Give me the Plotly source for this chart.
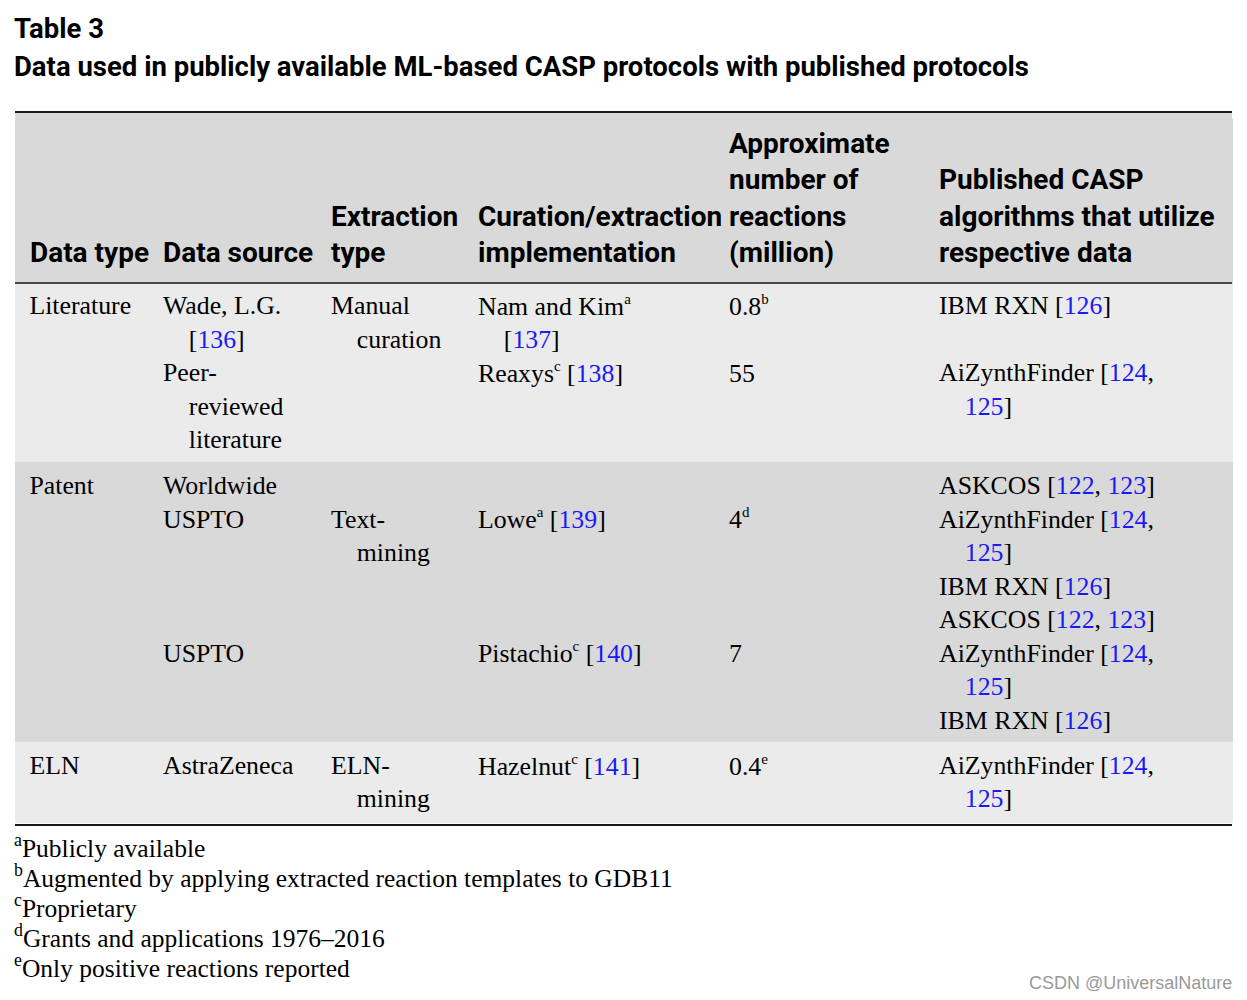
import re
import plotly.graph_objects as go

W, H = 1247, 1000

# ---------------- data ----------------
table_label = "Table 3"
table_title = "Data used in publicly available ML-based CASP protocols with published protocols"

header_lines = [
    ["Data type"],
    ["Data source"],
    ["Extraction", "type"],
    ["Curation/extraction", "implementation"],
    ["Approximate", "number of", "reactions", "(million)"],
    ["Published CASP", "algorithms that utilize", "respective data"],
]

# one entry per sub-row; "|" = wrapped line with hanging indent, "\n" = plain line break
data_type = ["Literature", "", "Patent", "", "ELN"]
data_source = ["Wade, L.G.|[136]", "Peer-|reviewed|literature", "Worldwide\nUSPTO", "USPTO", "AstraZeneca"]
extraction_type = ["Manual|curation", "", "Text-|mining", "", "ELN-|mining"]
implementation = ["Nam and Kim^a|[137]", "Reaxys^c [138]", "Lowe^a [139]", "Pistachio^c [140]", "Hazelnut^c [141]"]
reactions_million = ["0.8", "55", "4", "7", "0.4"]
reactions_note = ["b", "", "d", "", "e"]
casp_algorithms = [
    ["IBM RXN [126]"],
    ["AiZynthFinder [124,|125]"],
    ["ASKCOS [122, 123]", "AiZynthFinder [124,|125]", "IBM RXN [126]", "ASKCOS [122, 123]"],
    ["AiZynthFinder [124,|125]", "IBM RXN [126]"],
    ["AiZynthFinder [124,|125]"],
]
entry_offset = [0, 0, 1, 0, 0]      # line on which columns 3-5 start within the sub-row
row_group = [0, 0, 1, 1, 2]
group_fill = ["#ebebeb", "#d9d9d9", "#ebebeb"]

footnote_marks = ["a", "b", "c", "d", "e"]
footnote_texts = [
    "Publicly available",
    "Augmented by applying extracted reaction templates to GDB11",
    "Proprietary",
    "Grants and applications 1976\u20132016",
    "Only positive reactions reported",
]
watermark = "CSDN @UniversalNature"

# ---------------- styling ----------------
BLUE = "#1a1af5"
NBSP = "\u00a0"
INDENT = NBSP * 4
HEAD_FONT = "Roboto, 'Liberation Sans', sans-serif"
BODY_FONT = "'Liberation Serif', 'Times New Roman', serif"
HEADER_FILL = "#d9d9d9"
col_widths = [140, 168, 147, 251, 210, 301]
TABLE_TOP = 112
HEADER_SHIFT = 7


def markup(s):
    s = re.sub(r"\[([^\]]*)\]",
               lambda m: "[" + re.sub(r"(\d+)", rf"<span style='color:{BLUE}'>\1</span>", m.group(1)) + "]", s)
    s = re.sub(r"\^(\w)", r"<sup><span style='font-size:15px'>\1</span></sup>", s)
    return s


def to_lines(s):
    if not s:
        return []
    s = markup(s)
    out = []
    for part in s.split("\n"):
        segs = part.split("|")
        out.append(segs[0])
        out += [INDENT + seg for seg in segs[1:]]
    return out


n_groups = len(group_fill)
group_lines = [[[] for _ in range(6)] for _ in range(n_groups)]
for i in range(len(data_type)):
    off = [""] * entry_offset[i]
    val = reactions_million[i] + (("^" + reactions_note[i]) if reactions_note[i] else "")
    cols = [
        to_lines(data_type[i]),
        to_lines(data_source[i]),
        off + to_lines(extraction_type[i]),
        off + to_lines(implementation[i]),
        off + to_lines(val),
        sum((to_lines(a) for a in casp_algorithms[i]), []),
    ]
    n = max(len(c) for c in cols)
    for k, c in enumerate(cols):
        group_lines[row_group[i]][k] += c + [""] * (n - len(c))

body_cols = []
for k in range(6):
    col = []
    for g in range(n_groups):
        lines = group_lines[g][k]
        if k == 0:
            lines = [NBSP + l if l else l for l in lines]
        col.append("<br>".join(l if l else NBSP for l in lines))
    body_cols.append(col)

nh = max(len(h) for h in header_lines)
header_cells = []
for k, h in enumerate(header_lines):
    lines = [NBSP] * (nh - len(h)) + [("<b>" + ((NBSP + x) if k == 0 else x) + "</b>") for x in h]
    header_cells.append("<br>".join(lines))

fills = [group_fill[g] for g in range(n_groups)]

fig = go.Figure()
fig.add_trace(go.Table(
    domain=dict(x=[15 / W, 1232 / W], y=[0.05, 1 - (TABLE_TOP + HEADER_SHIFT) / H]),
    columnwidth=col_widths,
    header=dict(values=header_cells, fill_color=HEADER_FILL, line=dict(color=HEADER_FILL, width=1),
                align="left", height=171 - HEADER_SHIFT,
                font=dict(family=HEAD_FONT, size=28, color="black")),
    cells=dict(values=body_cols, fill_color=[fills] * 6, line=dict(color=[fills] * 6, width=1),
               align="left", height=40,
               font=dict(family=BODY_FONT, size=25.8, color="black")),
))

# top strip of header background above the table trace
fig.add_shape(type="rect", xref="paper", yref="paper", x0=15 / W, x1=1232 / W,
              y0=1 - (TABLE_TOP + HEADER_SHIFT + 1) / H, y1=1 - TABLE_TOP / H,
              fillcolor=HEADER_FILL, line=dict(width=0), layer="above")

# horizontal rules of the table
for ypix, wdt in [(112, 2), (283, 1.6), (825, 2)]:
    fig.add_shape(type="line", xref="paper", yref="paper", x0=15 / W, x1=1232 / W,
                  y0=1 - ypix / H, y1=1 - ypix / H, line=dict(color="#1a1a1a", width=wdt), layer="above")

# title
fig.add_annotation(text=f"<b>{table_label}</b>", x=12 / W, y=1 - 28 / H, xref="paper", yref="paper",
                   xanchor="left", yanchor="middle", showarrow=False,
                   font=dict(family=HEAD_FONT, size=27.5, color="black"))
fig.add_annotation(text=f"<b>{table_title}</b>", x=12 / W, y=1 - 66 / H, xref="paper", yref="paper",
                   xanchor="left", yanchor="middle", showarrow=False,
                   font=dict(family=HEAD_FONT, size=27.5, color="black"))

# footnotes
for i, (m, t) in enumerate(zip(footnote_marks, footnote_texts)):
    fig.add_annotation(text=f"<sup>{m}</sup>{t}", x=12 / W, y=1 - (846 + 30 * i) / H,
                       xref="paper", yref="paper", xanchor="left", yanchor="middle", showarrow=False,
                       font=dict(family=BODY_FONT, size=25.5, color="black"))

fig.add_annotation(text=watermark, x=1234 / W, y=1 - 983 / H, xref="paper", yref="paper",
                   xanchor="right", yanchor="middle", showarrow=False,
                   font=dict(family="'Liberation Sans', sans-serif", size=18, color="#9a9a9a"))

fig.update_layout(width=W, height=H, margin=dict(l=0, r=0, t=0, b=0),
                  paper_bgcolor="white", plot_bgcolor="white", showlegend=False)

fig.write_html("out.html", config={"displayModeBar": False},
               post_script="document.body.style.margin='0';")
